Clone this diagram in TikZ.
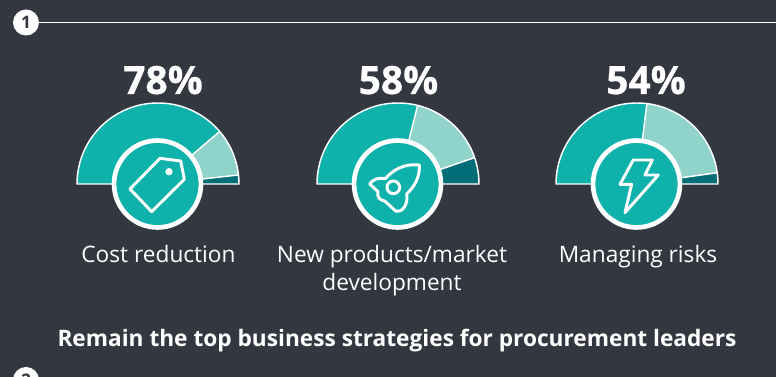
\documentclass[tikz,border=0pt]{standalone}
\usepackage{fontspec}
\setmainfont{Open Sans}
\definecolor{bgc}{HTML}{333840}
\definecolor{tealA}{HTML}{0FB2AB}
\definecolor{tealB}{HTML}{8FD3CB}
\definecolor{tealC}{HTML}{006D77}
\tikzset{
  seg/.style={draw=white,line width=1.1pt,line join=round},
  ring/.style={circle,draw=white,line width=3.5pt,fill=tealA,minimum size=65.2pt,inner sep=0pt},
  icon/.style={draw=white,line width=2.2pt,line join=round,line cap=round},
  pct/.style={font=\fontsize{29.2}{32}\selectfont\bfseries\addfontfeature{FakeBold=0.6},text=white,anchor=base},
  lab/.style={font=\fontsize{17}{21}\selectfont,text=white,align=center},
  head/.style={font=\fontsize{17}{20}\selectfont\bfseries,text=white,anchor=base},
  num/.style={circle,fill=white,minimum size=19.5pt,inner sep=0pt,font=\fontsize{13}{15}\selectfont\bfseries,text=bgc}
}
\newcommand{\gaugedraw}[4]{%
  \begin{scope}[shift={(#1,184)},y=0.75pt]
    \fill[tealA] (180:81) arc[start angle=180,end angle=#2,radius=81] -- (0,0) -- cycle;
    \fill[tealB] (#2:81) arc[start angle=#2,end angle=#3,radius=81] -- (0,0) -- cycle;
    \fill[tealC] (#3:81) arc[start angle=#3,end angle=0,radius=81] -- (0,0) -- cycle;
    \draw[seg] (180:81) arc[start angle=180,end angle=0,radius=81] -- cycle;
    \draw[seg] (0,0) -- (#2:81);
    \draw[seg] (0,0) -- (#3:81);
    \node[ring] (#4) at (-0.5,0) {};
  \end{scope}
}
\begin{document}
\begin{tikzpicture}[x=0.75pt,y=-0.75pt]
\fill[bgc] (0,0) rectangle (776,377);
\useasboundingbox (0,0) rectangle (776,377);
\coordinate (lineend) at (776,22.5);
\node[num] (n1) at (26,22.5) {1};
\draw[white,line width=1.1pt] (n1) -- (lineend);
\node[num] (n2) at (26,380) {2};

\node[pct] (p1) at (163,94) {78\%};
\node[pct] (p2) at (398.5,94) {58\%};
\node[pct] (p3) at (646,94) {54\%};

\gaugedraw{158}{40.4}{6.4}{g1}
\gaugedraw{398}{76}{19}{g2}
\gaugedraw{637}{83}{8}{g3}

% tag
\begin{scope}[shift={(60,90)},x=0.25pt,y=-0.25pt]
  \draw[icon] (300,205) -- (362,213) -- (373,268) -- (275,365) -- (210,297) -- cycle;
  \fill[white] (327,245) circle[radius=11];
\end{scope}
% rocket
\begin{scope}[shift={(360,150)},x=0.25pt,y=-0.25pt]
  \draw[icon] (178,45) .. controls (135,40) and (100,58) .. (76,86)
     .. controls (55,82) and (38,88) .. (29,102) -- (54,125)
     .. controls (50,140) and (60,152) .. (74,153) -- (108,184)
     .. controls (125,188) and (146,165) .. (140,132)
     .. controls (165,108) and (180,80) .. cycle;
  \draw[icon] (100,112) circle[radius=19];
\end{scope}
% bolt
\begin{scope}[shift={(600,150)},x=0.25pt,y=-0.25pt]
  \draw[icon] (100,30) -- (157,30) -- (135,75) -- (175,75) -- (75,188) -- (95,103) -- (60,103) -- cycle;
\end{scope}

\node[lab,anchor=base] (l1) at (158.5,263) {Cost reduction};
\node[lab] (l2) at (392,271) {New products/market\\development};
\node[lab,anchor=base] (l3) at (638,263) {Managing risks};
\node[head] (h) at (397,346.5) {Remain the top business strategies for procurement leaders};
\end{tikzpicture}
\end{document}
